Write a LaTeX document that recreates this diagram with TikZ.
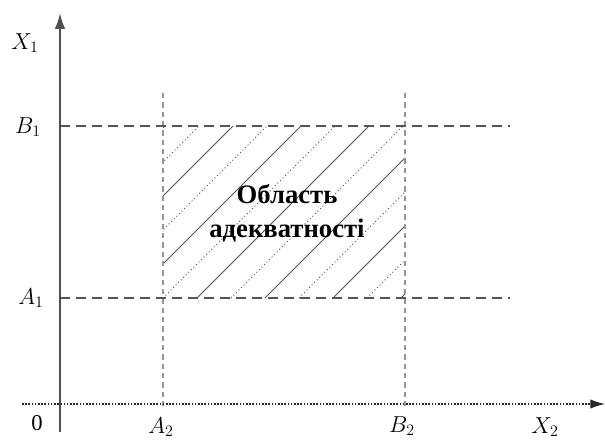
\documentclass[tikz,border=0pt]{standalone}
\usepackage{fontspec}
\setmainfont{Liberation Serif}
\newfontfamily\regionfont{Liberation Serif}[Script=Cyrillic]
\usetikzlibrary{arrows.meta}

\tikzset{every picture/.style={line width=0.75pt}}
\tikzset{
  axisline/.style={color={rgb, 255:red, 80; green, 80; blue, 80}, line width=1.5pt, -{Latex[length=12pt,width=8pt]}},
  baseline/.style={color={rgb, 255:red, 40; green, 40; blue, 40}, line width=0.9pt, dash pattern={on 1.2pt off 1.2pt}, -{Latex[length=11pt,width=7pt]}},
  limith/.style={color={rgb, 255:red, 85; green, 85; blue, 85}, line width=1.2pt, dash pattern={on 7.5pt off 4.5pt}},
  limitv/.style={color={rgb, 255:red, 150; green, 150; blue, 150}, line width=1pt, dash pattern={on 4pt off 3pt}},
  hatch/.style={color={rgb, 255:red, 80; green, 80; blue, 80}, line width=0.7pt},
  lbl/.style={inner sep=0.75pt, font=\fontsize{17}{19}\selectfont},
  region/.style={inner sep=0.75pt, align=center, font=\regionfont\fontsize{20}{25.5}\selectfont\bfseries}
}

\begin{document}
\begin{tikzpicture}[x=0.75pt,y=0.75pt,yscale=-1,xscale=1]
\useasboundingbox (0,0) rectangle (605,442);

% corners of the region
\coordinate (lowleft) at (163,298);
\coordinate (upright) at (405,126);

%Hatch [id:region]
\begin{scope}
\clip (lowleft) rectangle (upright);
\foreach \k in {-6,...,7} {
  \pgfmathtruncatemacro\m{mod(\k+10,2)}
  \ifnum\m=1
    \draw [hatch] (163+34*\k,298) -- ++(300,-300);
  \else
    \draw [hatch, dotted] (163+34*\k,298) -- ++(300,-300);
  \fi
}
\end{scope}

%Straight Lines [id:limits]
\coordinate (a2top) at (163,93);
\coordinate (a2bot) at (163,410);
\coordinate (b2top) at (405,93);
\coordinate (b2bot) at (405,410);
\draw [limitv] (a2top) -- (a2bot);
\draw [limitv] (b2top) -- (b2bot);
\coordinate (b1left) at (60,126);
\coordinate (b1right) at (510,126);
\coordinate (a1left) at (60,298);
\coordinate (a1right) at (510,298);
\draw [limith] (b1left) -- (b1right);
\draw [limith] (a1left) -- (a1right);

%Shape: Axis 2D [id:axes]
\coordinate (ybot) at (60,432);
\coordinate (ytop) at (60,13);
\coordinate (xleft) at (22,404);
\coordinate (xright) at (605,404);
\draw [baseline] (xleft) -- (xright);
\draw [axisline] (ybot) -- (ytop);

% Text Node
\node [lbl] (x1) at (25,43) {$X_{1}$};
% Text Node
\node [lbl] (b1) at (28,127) {$B_{1}$};
% Text Node
\node [lbl] (a1) at (31,298) {$A_{1}$};
% Text Node
\node [lbl] (zero) at (37,423) {0};
% Text Node
\node [lbl] (a2) at (161,427) {$A_{2}$};
% Text Node
\node [lbl] (b2) at (402,426) {$B_{2}$};
% Text Node
\node [lbl] (x2) at (545,427) {$X_{2}$};
% Text Node
\node [region] (area) at (287,213) {Область\\адекватності};

\end{tikzpicture}
\end{document}
